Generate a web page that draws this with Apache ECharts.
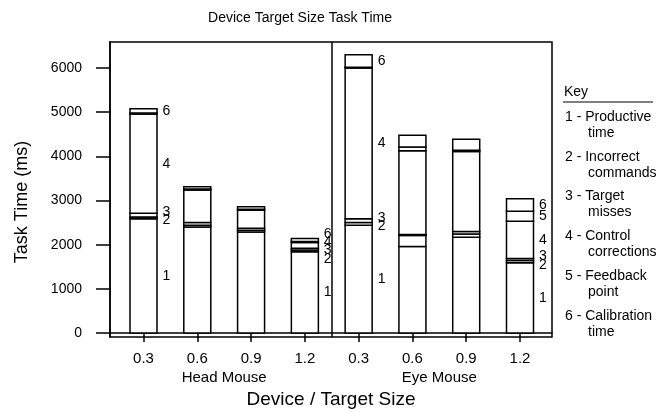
<!DOCTYPE html>
<html>
<head>
<meta charset="utf-8">
<script src="https://cdn.jsdelivr.net/npm/echarts@6/dist/echarts.min.js"></script>
<style>html,body{margin:0;padding:0;background:#fff}#c{width:665px;height:412px}</style>
</head>
<body>
<div id="c"></div>
<script>
// ---- data ----
const devices = ['Head Mouse', 'Eye Mouse'];
const sizes = ['0.3', '0.6', '0.9', '1.2'];
const keyNames = [['Productive', 'time'], ['Incorrect', 'commands'], ['Target', 'misses'], ['Control', 'corrections'], ['Feedback', 'point'], ['Calibration', 'time']];
// order: Head 0.3, 0.6, 0.9, 1.2, Eye 0.3, 0.6, 0.9, 1.2
const productive  = [2590, 2400, 2290, 1840, 2440, 1960, 2170, 1590];
const incorrect   = [40, 40, 40, 40, 60, 250, 70, 50];
const targetMiss  = [80, 60, 40, 40, 90, 20, 60, 50];
const correction  = [2250, 740, 410, 130, 3410, 1900, 1810, 840];
const feedback    = [20, 20, 20, 20, 20, 80, 30, 230];
const calibration = [100, 50, 60, 70, 280, 270, 250, 280];
const yTicks = [0, 1000, 2000, 3000, 4000, 5000, 6000];
const labelledBars = [0, 3, 4, 7];

// ---- build ----
const segs = [productive, incorrect, targetMiss, correction, feedback, calibration];
const nBars = productive.length;
const xPos = [];
const barData = [];
for (let i = 0; i < nBars; i++) {
  xPos.push(i + 1);
  barData.push([i + 1].concat(segs.map(s => s[i])));
}
const groupCenters = devices.map((d, g) => (g * sizes.length + 1 + (g + 1) * sizes.length) / 2);
const dividerX = sizes.length + 0.5;

// labels with simple de-overlap
const GAP = 190;
const labelData = [];
labelledBars.forEach(i => {
  let base = 0;
  const items = [];
  segs.forEach((s, k) => {
    const v = s[i];
    if (v >= 30) items.push({ k: k + 1, mid: base + v / 2 });
    base += v;
  });
  items.sort((a, b) => a.mid - b.mid);
  let groups = items.map(it => ({ m: [it] }));
  const start = g => g.m.reduce((a, b) => a + b.mid, 0) / g.m.length - (g.m.length - 1) * GAP / 2;
  let merged = true;
  while (merged) {
    merged = false;
    for (let j = 0; j < groups.length - 1; j++) {
      const a = groups[j], b = groups[j + 1];
      if (start(a) + a.m.length * GAP > start(b)) {
        groups.splice(j, 2, { m: a.m.concat(b.m) });
        merged = true;
        break;
      }
    }
  }
  groups.forEach(g => {
    const s0 = start(g);
    g.m.forEach((it, idx) => labelData.push([i + 1, s0 + idx * GAP, String(it.k)]));
  });
});

const FONT = 'Liberation Sans, Arial, sans-serif';
const chart = echarts.init(document.getElementById('c'), null, { renderer: 'canvas' });

const graphics = [
  { type: 'text', x: 300, y: 18, style: { text: 'Device Target Size Task Time', fontSize: 14, fontFamily: FONT, fill: '#000', align: 'center', verticalAlign: 'middle' } },
  { type: 'text', x: 22, y: 202, rotation: Math.PI / 2, style: { text: 'Task Time (ms)', fontSize: 18, fontFamily: FONT, fill: '#000', align: 'center', verticalAlign: 'middle' } },
  { type: 'text', x: 331, y: 400, style: { text: 'Device / Target Size', fontSize: 19, fontFamily: FONT, fill: '#000', align: 'center', verticalAlign: 'middle' } },
  { type: 'text', x: 564, y: 92, style: { text: 'Key', fontSize: 14, fontFamily: FONT, fill: '#000', align: 'left', verticalAlign: 'middle' } },
  { type: 'line', shape: { x1: 563, y1: 102, x2: 653, y2: 102 }, style: { stroke: '#000', lineWidth: 1.2 } }
];
keyNames.forEach((nm, k) => {
  const y0 = 117 + 39.8 * k;
  graphics.push({ type: 'text', x: 565, y: y0, style: { text: (k + 1) + ' - ' + nm[0], fontSize: 14, fontFamily: FONT, fill: '#000', align: 'left', verticalAlign: 'middle' } });
  graphics.push({ type: 'text', x: 588, y: y0 + 16, style: { text: nm[1], fontSize: 14, fontFamily: FONT, fill: '#000', align: 'left', verticalAlign: 'middle' } });
});

const BAR_W = 27;
chart.setOption({
  animation: false,
  backgroundColor: '#fff',
  textStyle: { fontFamily: FONT },
  grid: { left: 110, right: 113, top: 42, bottom: 75, show: true, borderColor: '#000', borderWidth: 1.5, backgroundColor: 'transparent' },
  xAxis: [
    {
      type: 'value', min: 0.377, max: 8.595, position: 'bottom',
      axisLine: { show: true, lineStyle: { color: '#000', width: 1.5 } },
      axisTick: { show: true, length: 9, customValues: xPos, lineStyle: { color: '#000', width: 1.5 } },
      axisLabel: { show: true, customValues: xPos, margin: 14, fontSize: 15, color: '#000', fontFamily: FONT,
        formatter: v => sizes[(Math.round(v) - 1) % sizes.length] },
      splitLine: { show: false }
    },
    {
      type: 'value', min: 0.377, max: 8.595, position: 'bottom',
      axisLine: { show: false }, axisTick: { show: false }, splitLine: { show: false },
      axisLabel: { show: true, customValues: groupCenters, margin: 33, fontSize: 15, color: '#000', fontFamily: FONT,
        formatter: v => devices[groupCenters.indexOf(v)] }
    }
  ],
  yAxis: {
    type: 'value', min: -90, max: 6590,
    axisLine: { show: true, lineStyle: { color: '#000', width: 1.5 } },
    axisTick: { show: true, length: 14, customValues: yTicks, lineStyle: { color: '#000', width: 1.5 } },
    axisLabel: { show: true, customValues: yTicks, margin: 28, fontSize: 14, color: '#000', fontFamily: FONT,
      formatter: v => String(v) },
    splitLine: { show: false }
  },
  graphic: graphics,
  series: [
    {
      type: 'custom',
      xAxisIndex: 0,
      encode: { x: 0, y: 1 },
      data: barData,
      renderItem: function (params, api) {
        const x = api.value(0);
        let base = 0;
        const children = [];
        for (let k = 1; k <= segs.length; k++) {
          const v = api.value(k);
          const p0 = api.coord([x, base]);
          const p1 = api.coord([x, base + v]);
          children.push({
            type: 'rect',
            shape: { x: p0[0] - BAR_W / 2, y: p1[1], width: BAR_W, height: p0[1] - p1[1] },
            style: { fill: '#fff', stroke: '#000', lineWidth: 1.5 }
          });
          base += v;
        }
        return { type: 'group', children: children };
      }
    },
    {
      type: 'scatter',
      xAxisIndex: 0,
      symbolSize: 0,
      data: labelData,
      z: 5,
      itemStyle: { opacity: 1 },
      label: {
        show: true, position: 'right', distance: 19, fontSize: 14, color: '#000', fontFamily: FONT, opacity: 1,
        formatter: p => p.value[2]
      },
      markLine: {
        silent: true, symbol: ['none', 'none'],
        label: { show: false },
        lineStyle: { color: '#000', width: 1.5, type: 'solid', opacity: 1 },
        data: [{ xAxis: dividerX }]
      }
    }
  ]
});
</script>
</body>
</html>
